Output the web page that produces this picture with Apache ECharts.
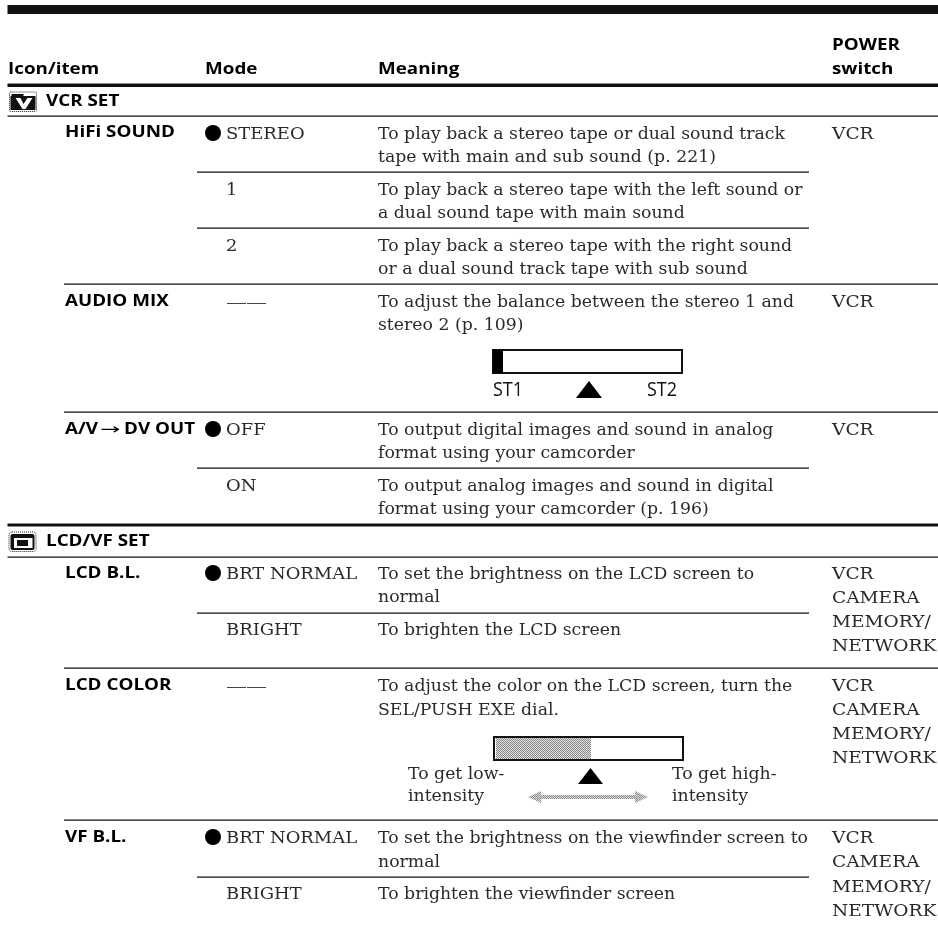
<!DOCTYPE html>
<html><head><meta charset="utf-8">
<style>html,body{margin:0;padding:0;background:#fff}#c{width:938px;height:926px}</style>
<script src="https://cdn.jsdelivr.net/npm/echarts@6/dist/echarts.min.js"></script>
</head><body><div id="c"></div>
<script>
// ---- content ----
const headers = ['Icon/item', 'Mode', 'Meaning'];
const powerHeader = ['POWER', 'switch'];
const sections = ['VCR SET', 'LCD/VF SET'];
const items = ['HiFi SOUND', 'AUDIO MIX', 'A/V', 'DV OUT', 'LCD B.L.', 'LCD COLOR', 'VF B.L.'];
const modes = ['STEREO', '1', '2', 'OFF', 'ON', 'BRT NORMAL', 'BRIGHT', 'BRT NORMAL', 'BRIGHT'];
const meanings = [
  'To play back a stereo tape or dual sound track', 'tape with main and sub sound (p. 221)',
  'To play back a stereo tape with the left sound or', 'a dual sound tape with main sound',
  'To play back a stereo tape with the right sound', 'or a dual sound track tape with sub sound',
  'To adjust the balance between the stereo 1 and', 'stereo 2 (p. 109)',
  'To output digital images and sound in analog', 'format using your camcorder',
  'To output analog images and sound in digital', 'format using your camcorder (p. 196)',
  'To set the brightness on the LCD screen to', 'normal',
  'To brighten the LCD screen',
  'To adjust the color on the LCD screen, turn the', 'SEL/PUSH EXE dial.',
  'To set the brightness on the viewfinder screen to', 'normal',
  'To brighten the viewfinder screen'
];
const power = ['VCR', 'VCR', 'VCR',
  'VCR', 'CAMERA', 'MEMORY/', 'NETWORK',
  'VCR', 'CAMERA', 'MEMORY/', 'NETWORK',
  'VCR', 'CAMERA', 'MEMORY/', 'NETWORK'];
const gaugeLabels = ['ST1', 'ST2'];
const gaugeNotes = ['To get low-', 'intensity', 'To get high-', 'intensity'];

// ---- layout (page units, mapped through hidden value axes) ----
const L = {
  itemX: 65, modeX: 226, meanX: 378, powX: 832,
  itemY: [139, 308, 436, 436, 580, 692, 844],
  itemXs: [65, 65, 65, 124, 65, 65, 65],
  modeY: [140, 196, 252, 436, 492, 580, 636, 844, 900],
  meanY: [140, 163.5, 196, 219.5, 252, 275.5, 308, 331.5, 436, 459, 492, 515, 580, 603, 636, 692, 716, 844, 868, 900],
  powY: [140, 308, 436, 580, 604, 628, 652, 692, 716, 740, 764, 844, 868, 893, 917],
  bullets: [[213, 133], [213, 429], [213, 573], [213, 837]],
  dashes: [303, 687],
  rules: [[7.5, 938, 5, 9], [7.5, 938, 83.5, 3.5], [7.5, 938, 115.5, 1.3], [197, 809, 171.5, 1.3], [197, 809, 227.5, 1.3],
    [64, 938, 283.5, 1.3], [64, 938, 411.5, 1.3], [197, 809, 467.5, 1.3], [7.5, 938, 523.5, 3], [7.5, 938, 556.5, 1.3],
    [197, 809, 612.5, 1.3], [64, 938, 667.5, 1.3], [64, 938, 819.5, 1.3], [197, 809, 876.5, 1.3]]
};
const SERIF = '"DejaVu Serif"', SANS = '"Open Sans"';
const K = {
  bold: {font: 'bold 16.5px ' + SANS, fill: '#000', sx: 1.14, dy: 6.4},
  body: {font: '16px ' + SERIF, fill: '#2a2a2a', sx: 1.08, dy: 5.5},
  mode: {font: '16px ' + SERIF, fill: '#2a2a2a', sx: 1.12, dy: 5.5},
  caps: {font: '16px ' + SERIF, fill: '#2a2a2a', sx: 1.16, dy: 5.5},
  thin: {font: '20px ' + SANS, fill: '#111', sx: 0.9, dy: 7.8},
  arrow: {font: '15px "DejaVu Sans"', fill: '#000', sx: 1.6, dy: 5.5}
};
const cells = [];
const put = (x, y, text, kind) => cells.push({x, y, text, kind});
headers.forEach((t, i) => put([8, 205, 378][i], 76, t, 'bold'));
powerHeader.forEach((t, i) => put(L.powX, [52, 76][i], t, 'bold'));
sections.forEach((t, i) => put(46, [108, 548][i], t, 'bold'));
items.forEach((t, i) => put(L.itemXs[i], L.itemY[i], t, 'bold'));
modes.forEach((t, i) => put(L.modeX, L.modeY[i], t, 'mode'));
meanings.forEach((t, i) => put(L.meanX, L.meanY[i], t, 'body'));
power.forEach((t, i) => put(L.powX, L.powY[i], t, 'caps'));
gaugeLabels.forEach((t, i) => put([493, 647][i], 398, t, 'thin'));
gaugeNotes.forEach((t, i) => put([408, 408, 672, 672][i], [780, 802, 780, 802][i], t, 'body'));
put(100, 436, '→', 'arrow');

// fine dither used by the grey gauge fill and the double arrow
const ditherCanvas = document.createElement('canvas');
ditherCanvas.width = ditherCanvas.height = 2;
(function () {
  const g = ditherCanvas.getContext('2d');
  g.fillStyle = '#dcdcdc'; g.fillRect(0, 0, 2, 2);
  g.fillStyle = '#8c8c8c'; g.fillRect(0, 0, 1, 1); g.fillRect(1, 1, 1, 1);
})();
const dither = {image: ditherCanvas, repeat: 'repeat'};

function P(api, x, y) { return api.coord([x, y]); }
function rect(api, x0, y0, x1, y1, style, r) {
  const a = P(api, x0, y0), b = P(api, x1, y1);
  return {type: 'rect', shape: {x: a[0], y: a[1], width: b[0] - a[0], height: b[1] - a[1], r: r || 0}, style};
}
function poly(api, pts, fill) {
  return {type: 'polygon', shape: {points: pts.map(p => P(api, p[0], p[1]))}, style: {fill}};
}
function tvIcon(api, x, y, lcd) {
  const kids = [];
  kids.push(rect(api, x, y, x + 27, y + 19.5, {fill: '#fff', stroke: '#222', lineWidth: 1, lineDash: [1, 1]}, lcd ? 3 : 1));
  if (lcd) {
    kids.push(rect(api, x + 1.5, y + 2, x + 25.5, y + 18, {fill: '#111'}, 2));
    kids.push(rect(api, x + 5, y + 6, x + 23.5, y + 16, {fill: '#fff'}));
    kids.push(rect(api, x + 8, y + 8, x + 19, y + 14, {fill: '#111'}));
  } else {
    kids.push(rect(api, x + 2, y + 2, x + 14, y + 4, {fill: '#111'}));
    kids.push(rect(api, x + 1, y + 4, x + 26, y + 18, {fill: '#111'}));
    kids.push(poly(api, [[x + 6, y + 6], [x + 11, y + 6], [x + 14, y + 12], [x + 18, y + 6], [x + 23, y + 6], [x + 16, y + 17], [x + 13, y + 17]], '#fff'));
  }
  return {type: 'group', children: kids};
}
function drawDecor(params, api) {
  const kids = [];
  L.rules.forEach(r => kids.push(rect(api, r[0], r[2], r[1], r[2] + r[3], {fill: '#111'})));
  L.bullets.forEach(b => {
    const c = P(api, b[0], b[1]);
    kids.push({type: 'circle', shape: {cx: c[0], cy: c[1], r: 8}, style: {fill: '#000'}});
  });
  L.dashes.forEach(y => {
    kids.push(rect(api, 227, y, 246, y + 1, {fill: '#444'}));
    kids.push(rect(api, 247, y, 266, y + 1, {fill: '#444'}));
  });
  // balance gauge
  kids.push(rect(api, 493, 350, 682, 373, {fill: '#fff', stroke: '#111', lineWidth: 2}));
  kids.push(rect(api, 493, 350, 503, 373, {fill: '#000'}));
  kids.push(poly(api, [[576, 398], [602, 398], [589, 381]], '#000'));
  // colour gauge
  kids.push(rect(api, 494, 737, 683, 760, {fill: '#fff', stroke: '#111', lineWidth: 2}));
  kids.push(rect(api, 496, 738, 591, 759, {fill: dither}));
  kids.push(poly(api, [[578, 784], [603, 784], [590.5, 768]], '#000'));
  kids.push(poly(api, [[528, 797], [541, 791], [541, 795], [635, 795], [635, 791], [648, 797], [635, 803], [635, 799], [541, 799], [541, 803]], dither));
  kids.push(tvIcon(api, 9.5, 92, false));
  kids.push(tvIcon(api, 9, 532, true));
  return {type: 'group', children: kids};
}
function drawCell(params, api) {
  const c = cells[params.dataIndex];
  const k = K[c.kind];
  const p = P(api, c.x, c.y - k.dy);
  return {type: 'text', x: p[0], y: p[1], scaleX: k.sx, style: {text: c.text, font: k.font, fill: k.fill, verticalAlign: 'middle', align: 'left', x: 0, y: 0}};
}
const chart = echarts.init(document.getElementById('c'), null, {renderer: 'canvas'});
chart.setOption({
  backgroundColor: '#fff', animation: false,
  grid: {left: 0, right: 0, top: 0, bottom: 0},
  xAxis: {type: 'value', min: 0, max: 938, show: false},
  yAxis: {type: 'value', min: 0, max: 926, inverse: true, show: false},
  series: [
    {type: 'custom', silent: true, clip: false, data: [[0, 0]], renderItem: drawDecor, animation: false},
    {type: 'custom', silent: true, clip: false, data: cells.map(c => [c.x, c.y]), renderItem: drawCell, animation: false}
  ]
});
</script></body></html>
